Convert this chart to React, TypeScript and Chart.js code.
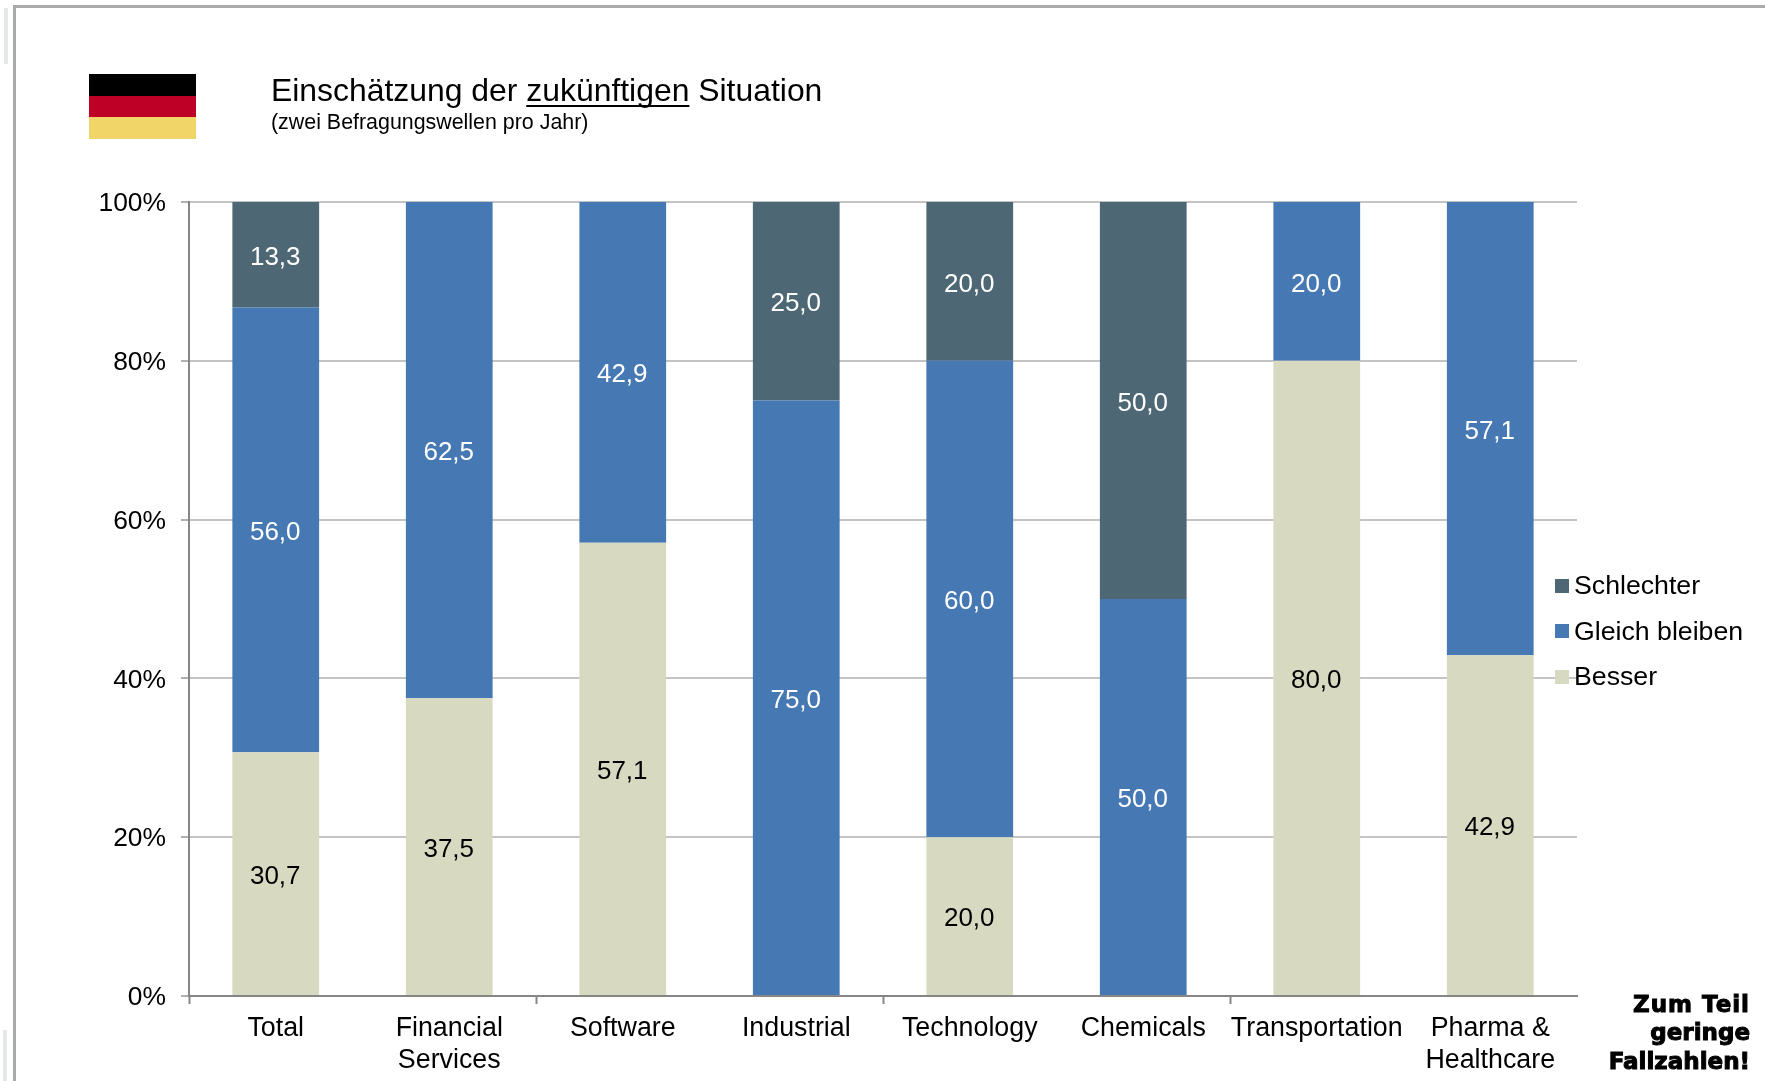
import React, { useEffect, useRef } from "react";
import { Chart, registerables } from "chart.js";

Chart.register(...registerables);

const categories: (string | string[])[] = [
  "Total",
  ["Financial", "Services"],
  "Software",
  "Industrial",
  "Technology",
  "Chemicals",
  "Transportation",
  ["Pharma &", "Healthcare"],
];
const besser = [30.7, 37.5, 57.1, 0, 20.0, 0, 80.0, 42.9];
const gleichBleiben = [56.0, 62.5, 42.9, 75.0, 60.0, 50.0, 20.0, 57.1];
const schlechter = [13.3, 0, 0, 25.0, 20.0, 50.0, 0, 0];
const titleParts = ["Einschätzung der ", "zukünftigen", " Situation"];
const subtitle = "(zwei Befragungswellen pro Jahr)";
const noteLines = ["Zum Teil", "geringe", "Fallzahlen!"];

const FONT = '"Liberation Sans", Arial, sans-serif';
const SLATE = "#4d6874";
const BLUE = "#4679b4";
const BEIGE = "#d7dac1";

const barLabels = {
  id: "barLabels",
  afterDatasetsDraw(chart: any) {
    const { ctx } = chart;
    ctx.save();
    ctx.font = `26px ${FONT}`;
    ctx.textAlign = "center";
    ctx.textBaseline = "middle";
    chart.data.datasets.forEach((ds: any, di: number) => {
      const meta = chart.getDatasetMeta(di);
      ctx.fillStyle = di === 0 ? "#000000" : "#ffffff";
      ds.data.forEach((v: number, i: number) => {
        if (!v) return;
        const el = meta.data[i];
        const y = (el.y + el.base) / 2;
        ctx.fillText(v.toFixed(1).replace(".", ","), el.x - 0.5, y + 3);
      });
    });
    ctx.restore();
  },
};

const decorations = {
  id: "decorations",
  afterDraw(chart: any) {
    const { ctx } = chart;
    ctx.save();
    // page frame
    ctx.fillStyle = "#e6e7e7";
    ctx.fillRect(4, 8, 4, 56);
    ctx.fillRect(3, 1030, 4, 51);
    ctx.fillStyle = "#a9abab";
    ctx.fillRect(13, 5, 1752, 3);
    ctx.fillRect(13, 5, 3, 1076);
    // flag
    ctx.fillStyle = "#000000";
    ctx.fillRect(89, 74, 107, 22);
    ctx.fillStyle = "#be0027";
    ctx.fillRect(89, 96, 107, 21);
    ctx.fillStyle = "#f1d568";
    ctx.fillRect(89, 117, 107, 22);
    // title
    ctx.fillStyle = "#000000";
    ctx.textBaseline = "alphabetic";
    ctx.textAlign = "left";
    ctx.font = `31.9px ${FONT}`;
    let x = 271;
    const baseY = 101;
    titleParts.forEach((part, i) => {
      ctx.fillText(part, x, baseY);
      const w = ctx.measureText(part).width;
      if (i === 1) ctx.fillRect(x, baseY + 4, w, 2);
      x += w;
    });
    ctx.font = `21.4px ${FONT}`;
    ctx.fillText(subtitle, 271, 129);
    // legend
    const rows = [...chart.data.datasets].reverse();
    const ys = [586.5, 632.5, 678];
    const marks = [586, 631, 677];
    rows.forEach((ds: any, i: number) => {
      ctx.fillStyle = ds.backgroundColor;
      ctx.fillRect(1555, marks[i] - 7, 14, 14);
      ctx.fillStyle = "#000000";
      ctx.font = `26.7px ${FONT}`;
      ctx.textBaseline = "middle";
      ctx.fillText(ds.label, 1574, ys[i]);
    });
    // note
    ctx.textAlign = "right";
    ctx.font = `bold 23px "DejaVu Sans", sans-serif`;
    ctx.lineWidth = 1;
    ctx.strokeStyle = "#000000";
    [1006, 1034, 1063].forEach((y, i) => {
      (ctx as any).letterSpacing = i === 0 ? "1px" : "0px";
      ctx.fillText(noteLines[i], 1750, y);
      ctx.strokeText(noteLines[i], 1750, y);
    });
    ctx.restore();
  },
};

export default function App() {
  const ref = useRef<HTMLCanvasElement | null>(null);
  useEffect(() => {
    const chart = new Chart(ref.current as HTMLCanvasElement, {
      type: "bar",
      data: {
        labels: categories as any,
        datasets: [
          { label: "Besser", data: besser, backgroundColor: BEIGE },
          { label: "Gleich bleiben", data: gleichBleiben, backgroundColor: BLUE },
          { label: "Schlechter", data: schlechter, backgroundColor: SLATE },
        ],
      },
      plugins: [barLabels, decorations],
      options: {
        animation: false,
        responsive: false,
        layout: {
          autoPadding: false,
          padding: { top: 202, right: 188, left: 0, bottom: 0 },
        },
        datasets: { bar: { barPercentage: 0.5, categoryPercentage: 1 } },
        plugins: {
          legend: { display: false },
          title: { display: false },
          tooltip: { enabled: false },
        },
        scales: {
          x: {
            stacked: true,
            afterFit: (s: any) => {
              s.height = 85;
            },
            border: { color: "#868686", width: 2 },
            grid: {
              drawOnChartArea: false,
              tickLength: 8,
              tickWidth: 2,
              tickColor: (c: any) => (c.index % 2 === 0 ? "#868686" : "rgba(0,0,0,0)"),
            },
            ticks: {
              color: "#000000",
              font: { family: FONT, size: 26.8, lineHeight: 1.18 },
              autoSkip: false,
              maxRotation: 0,
              padding: 9,
            },
          },
          y: {
            stacked: true,
            min: 0,
            max: 100,
            afterFit: (s: any) => {
              s.width = 189;
            },
            border: { color: "#868686", width: 2 },
            grid: { color: "#c4c4c4", lineWidth: 2, tickLength: 8, tickColor: "#b0b0b0" },
            ticks: {
              stepSize: 20,
              color: "#000000",
              font: { family: FONT, size: 26.4 },
              padding: 15,
              labelOffset: 2,
              callback: (v: any) => `${v}%`,
            },
          },
        },
      },
    } as any);
    return () => chart.destroy();
  }, []);
  return (
    <canvas
      ref={ref}
      width={1765}
      height={1081}
      style={{ position: "fixed", left: 0, top: 0, width: 1765, height: 1081, display: "block" }}
    />
  );
}
